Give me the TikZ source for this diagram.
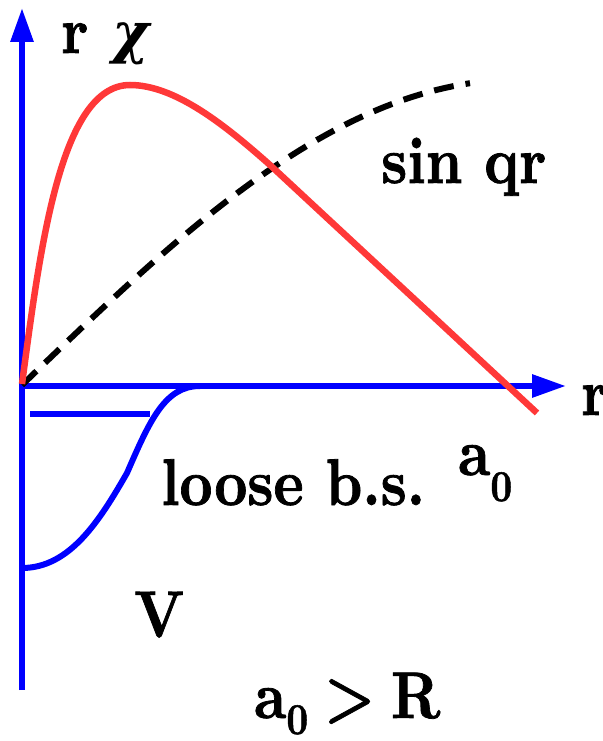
\documentclass[tikz,border=0pt]{standalone}
\usepackage{fontspec}
\setmainfont{lmroman10-regular.otf}[BoldFont=lmroman10-bold.otf,BoldFeatures={FakeBold=1.2}]
\newfontfamily\greekfont{DejaVu Serif}
\usetikzlibrary{arrows.meta}
\definecolor{axisblue}{RGB}{0,0,255}
\definecolor{curvered}{RGB}{255,56,56}
\newcommand{\narrow}[1]{\scalebox{0.87}[1]{#1}}
\newcommand{\subzero}[1]{\raisebox{#1}{\fontsize{44}{44}\selectfont 0}}
\begin{document}
\begin{tikzpicture}[x=1pt,y=-1pt,
  axis/.style={draw=axisblue,line width=6pt,-{Triangle[length=34pt,width=22pt]}},
  vline/.style={draw=axisblue,line width=6pt},
  redline/.style={draw=curvered,line width=6.5pt},
  dashline/.style={draw=black,line width=6pt,dash pattern=on 20pt off 12pt},
  lbl/.style={anchor=base west,inner sep=0pt,font=\fontsize{66}{66}\selectfont\bfseries}]
\useasboundingbox (0,0) rectangle (602,741);
% axes
\coordinate (o) at (22,386);
\coordinate (ybot) at (22,690);
\coordinate (ytop) at (22,8);
\coordinate (xleft) at (19,386);
\coordinate (xright) at (566,386);
\draw[axis] (ybot) -- (ytop);
\draw[axis] (xleft) -- (xright);
% sin qr (dashed)
\draw[dashline] plot[domain=22:470,samples=80] (\x,{385-305.6*sin((\x-22)/498*90)});
% wave function r chi
\draw[redline] (22,384) .. controls (40,250) and (60,85) .. (130,85)
  .. controls (175,85) and (225,125) .. (270,165) -- (537,413);
% potential V
\draw[vline] (22,568) .. controls (70,568) and (100,520) .. (127,473)
  .. controls (150,420) and (165,386) .. (200,386);
% loose bound state level
\coordinate (bsl) at (30,414);
\coordinate (bsr) at (150,414);
\draw[vline] (bsl) -- (bsr);
% labels
\node[lbl] (rchi) at (61,53) {\narrow{r}\hspace{24pt}{\greekfont\fontsize{56}{56}\selectfont\bfseries\itshape χ}};
\node[lbl] (rlab) at (581,415) {\narrow{r}};
\node[lbl] (sinqr) at (381,183) {\narrow{sin qr}};
\node[lbl] (loose) at (161,505) {\narrow{loose b.s.}};
\node[lbl] (a0) at (458,475) {\narrow{a\subzero{-26pt}}};
\node[lbl] (V) at (134,637) {\narrow{V}};
\node[lbl] (cond) at (254,718) {\narrow{a\subzero{-16pt}\hspace{18pt}>\hspace{18pt}R}};
\end{tikzpicture}
\end{document}
